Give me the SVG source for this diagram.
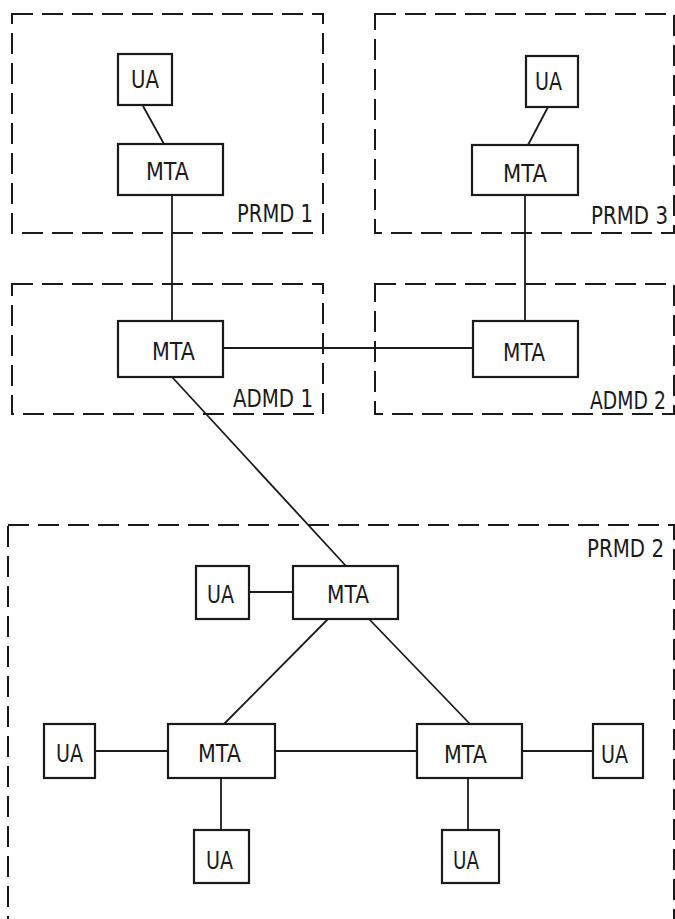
<svg xmlns="http://www.w3.org/2000/svg" width="675" height="919" viewBox="0 0 675 919">
<style>
.dom{fill:none;stroke:#1a1a1a;stroke-width:2;stroke-dasharray:21 9}
.box{fill:#fff;stroke:#1a1a1a;stroke-width:2.2}
.ln{stroke:#1a1a1a;stroke-width:1.8;fill:none}
text{font-family:"DejaVu Sans","Liberation Sans",sans-serif;font-size:25.5px;fill:#1a1a1a}
text.sm{font-size:20px}
</style>
<rect width="675" height="919" fill="#fff"/>
<g id="domains">
<g id="prmd1"><rect class="dom" x="12" y="14" width="311" height="219"/><text x="237" y="222" textLength="76" lengthAdjust="spacingAndGlyphs">PRMD 1</text></g>
<g id="prmd3"><rect class="dom" x="375" y="14" width="299" height="219"/><g transform="translate(591,224) scale(1,1.27)"><text class="sm" x="0" y="0" textLength="77" lengthAdjust="spacingAndGlyphs">PRMD 3</text></g></g>
<g id="admd1"><rect class="dom" x="12" y="284" width="311" height="130"/><text x="233" y="407" textLength="80" lengthAdjust="spacingAndGlyphs">ADMD 1</text></g>
<g id="admd2"><rect class="dom" x="375" y="284" width="299" height="130"/><g transform="translate(590,409) scale(1,1.27)"><text class="sm" x="0" y="0" textLength="76" lengthAdjust="spacingAndGlyphs">ADMD 2</text></g></g>
<g id="prmd2"><rect class="dom" x="8" y="525" width="666" height="410"/><g transform="translate(587,557) scale(1,1.27)"><text class="sm" x="0" y="0" textLength="77" lengthAdjust="spacingAndGlyphs">PRMD 2</text></g></g>
</g>
<g id="connectors">
<line class="ln" x1="143" y1="106" x2="164" y2="144"/>
<line class="ln" x1="172" y1="195" x2="172" y2="321"/>
<line class="ln" x1="548" y1="107" x2="528" y2="145"/>
<line class="ln" x1="525" y1="195" x2="525" y2="321"/>
<line class="ln" x1="223" y1="348" x2="473" y2="348"/>
<line class="ln" x1="172" y1="377" x2="346" y2="566"/>
<line class="ln" x1="249" y1="592" x2="293" y2="592"/>
<line class="ln" x1="328" y1="619" x2="224" y2="724"/>
<line class="ln" x1="369" y1="619" x2="470" y2="724"/>
<line class="ln" x1="95" y1="751" x2="168" y2="751"/>
<line class="ln" x1="275" y1="751" x2="417" y2="751"/>
<line class="ln" x1="522" y1="751" x2="593" y2="751"/>
<line class="ln" x1="221" y1="778" x2="221" y2="830"/>
<line class="ln" x1="468" y1="778" x2="468" y2="830"/>
</g>
<g id="ua1"><rect class="box" x="118" y="54" width="54" height="51"/><text x="131" y="88" textLength="28" lengthAdjust="spacingAndGlyphs">UA</text></g>
<g id="mta1"><rect class="box" x="118" y="144" width="105" height="51"/><text x="146" y="180" textLength="43" lengthAdjust="spacingAndGlyphs">MTA</text></g>
<g id="ua3"><rect class="box" x="526" y="56" width="52" height="51"/><text x="535" y="90" textLength="27" lengthAdjust="spacingAndGlyphs">UA</text></g>
<g id="mta3"><rect class="box" x="472" y="145" width="106" height="50"/><text x="503" y="182" textLength="44" lengthAdjust="spacingAndGlyphs">MTA</text></g>
<g id="mta_admd1"><rect class="box" x="118" y="321" width="105" height="56"/><text x="152" y="360" textLength="43" lengthAdjust="spacingAndGlyphs">MTA</text></g>
<g id="mta_admd2"><rect class="box" x="473" y="321" width="105" height="56"/><text x="503" y="361" textLength="42" lengthAdjust="spacingAndGlyphs">MTA</text></g>
<g id="ua_top"><rect class="box" x="196" y="566" width="53" height="53"/><text x="207" y="603" textLength="27" lengthAdjust="spacingAndGlyphs">UA</text></g>
<g id="mta_top"><rect class="box" x="293" y="566" width="105" height="53"/><text x="327" y="603" textLength="42" lengthAdjust="spacingAndGlyphs">MTA</text></g>
<g id="ua_left"><rect class="box" x="44" y="724" width="51" height="54"/><text x="56" y="762" textLength="27" lengthAdjust="spacingAndGlyphs">UA</text></g>
<g id="mta_left"><rect class="box" x="168" y="724" width="107" height="54"/><text x="198" y="762" textLength="43" lengthAdjust="spacingAndGlyphs">MTA</text></g>
<g id="mta_right"><rect class="box" x="417" y="724" width="105" height="54"/><text x="444" y="763" textLength="43" lengthAdjust="spacingAndGlyphs">MTA</text></g>
<g id="ua_right"><rect class="box" x="593" y="724" width="50" height="54"/><text x="601" y="763" textLength="27" lengthAdjust="spacingAndGlyphs">UA</text></g>
<g id="ua_bl"><rect class="box" x="194" y="830" width="55" height="53"/><text x="206" y="869" textLength="27" lengthAdjust="spacingAndGlyphs">UA</text></g>
<g id="ua_br"><rect class="box" x="442" y="830" width="57" height="53"/><text x="453" y="869" textLength="26" lengthAdjust="spacingAndGlyphs">UA</text></g>
</svg>
